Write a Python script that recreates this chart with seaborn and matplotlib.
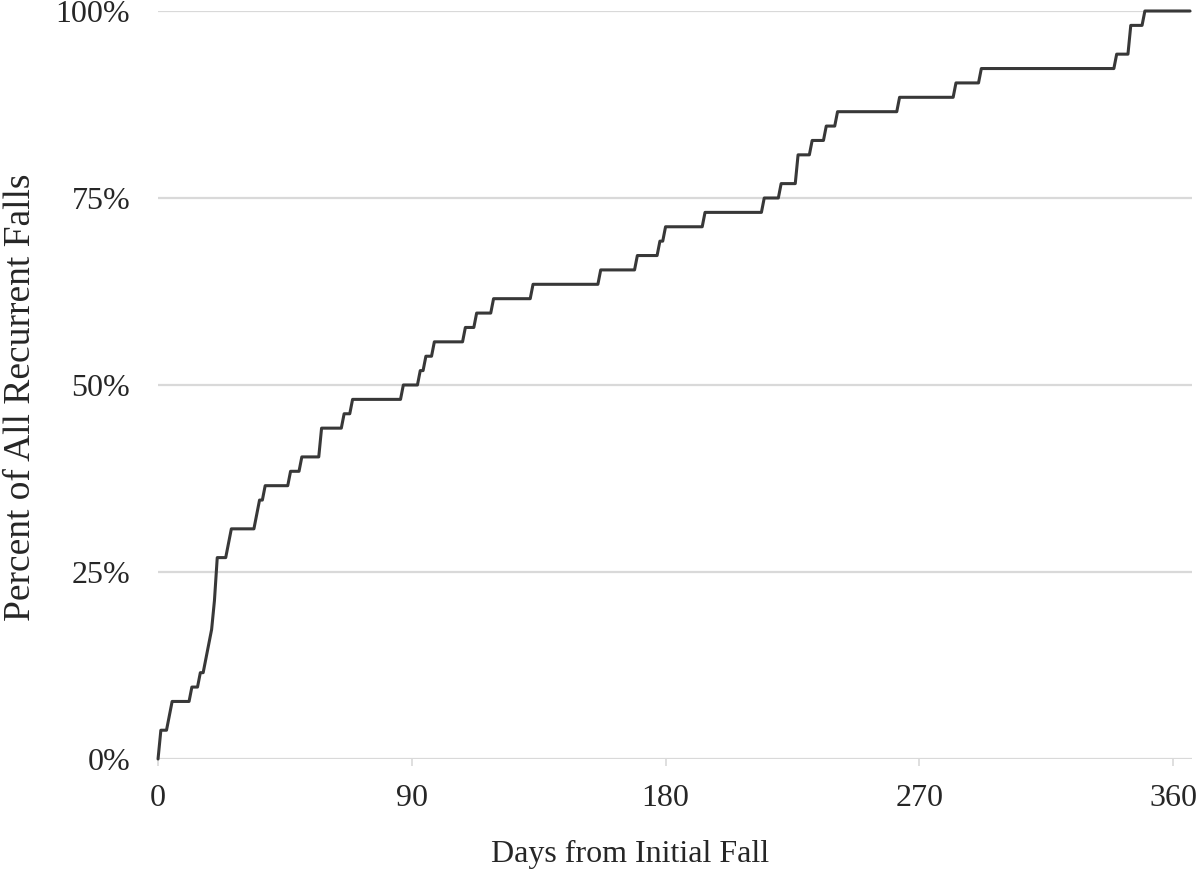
# cumulative share of recurrent falls by days since the initial fall

import matplotlib.pyplot as plt
import matplotlib.ticker as mtick
import numpy as np
import pandas as pd
import seaborn as sns

# day of each recurrent fall (52 falls)
fall_days = [1, 1, 4, 5, 12, 15, 17, 18, 19, 20, 20, 21, 21, 21,
             25, 26, 35, 36, 38, 47, 51, 58, 58, 66, 69, 87, 93, 95, 98,
             109, 113, 119, 133, 157, 170, 178, 180, 194, 215, 221,
             227, 227, 232, 237, 241, 263, 283, 292, 340, 345, 345, 350]
last_day = 366
x_ticks = [0, 90, 180, 270, 360]
y_ticks = [0, 25, 50, 75, 100]

# daily cumulative percent
days = np.arange(0, last_day + 1)
counts = pd.Series(fall_days).value_counts().reindex(days, fill_value=0)
df = pd.DataFrame({"day": days,
                   "pct": counts.cumsum().values / len(fall_days) * 100})

sns.set_style("white")
plt.rcParams['font.family'] = ['Liberation Serif', 'DejaVu Serif']

fig, ax = plt.subplots(figsize=(12, 8.73), dpi=100)
fig.subplots_adjust(left=0.1317, right=0.9933, bottom=0.1306, top=0.9874)

sns.lineplot(data=df, x="day", y="pct", ax=ax, color="#383838",
             linewidth=2.2, clip_on=False, zorder=3)

ax.set_xlim(0, last_day + 0.7)
ax.set_ylim(0, 100)
ax.set_xticks(x_ticks)
ax.set_yticks(y_ticks)
ax.yaxis.set_major_formatter(mtick.PercentFormatter(decimals=0))

ax.grid(axis='y', color='#d9d9d9', linewidth=1.6)
ax.grid(axis='x', visible=False)
for s in ax.spines.values():
    s.set_visible(False)

ax.tick_params(axis='x', length=5, width=1.2, color='#d9d9d9', pad=13,
               labelsize=23, labelcolor='#262626', bottom=True)
ax.tick_params(axis='y', length=0, pad=20, labelsize=23, labelcolor='#262626')

ax.set_xlabel('Days from Initial Fall', fontsize=23, color='#262626')
ax.set_ylabel('Percent of All Recurrent Falls', fontsize=27, color='#262626')
ax.xaxis.set_label_coords(0.457, -0.108)
ax.yaxis.set_label_coords(-0.116, 0.483)

plt.savefig('out.png', dpi=100)
